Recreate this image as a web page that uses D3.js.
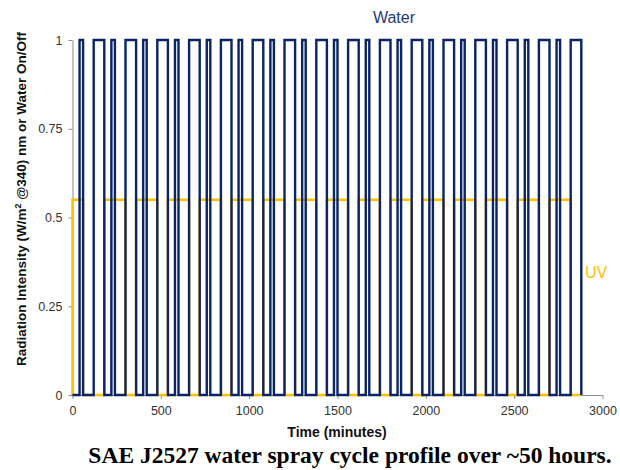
<!DOCTYPE html>
<html>
<head>
<meta charset="utf-8"/>
<title>SAE J2527 water spray cycle</title>
<script src="https://cdn.jsdelivr.net/npm/d3@7"></script>
<style>
  body { margin: 0; background: #fff; }
  svg text { font-family: "Liberation Sans", Arial, sans-serif; }
</style>
</head>
<body>
<div id="chart"></div>
<script>
// water spray on intervals (minutes)
var waterOn = [
  [40,60],[120,180],[220,240],[300,360],[400,420],[480,540],[580,600],[660,720],
  [760,780],[840,900],[940,960],[1020,1080],[1120,1140],[1200,1260],[1300,1320],[1380,1440],
  [1480,1500],[1560,1620],[1660,1680],[1740,1800],[1840,1860],[1920,1980],[2020,2040],[2100,2160],
  [2200,2220],[2280,2340],[2380,2400],[2460,2520],[2560,2580],[2640,2700],[2740,2760],[2820,2880]
];
// UV light on intervals (minutes)
var uvOn = [
  [0,60],[180,300],[360,480],[540,660],[720,840],[900,1020],[1080,1200],[1260,1380],
  [1440,1560],[1620,1740],[1800,1920],[1980,2100],[2160,2280],[2340,2460],[2520,2640],[2700,2820]
];
var uvLevel = 0.55;
var endTime = 2880;
var xTicks = [0,500,1000,1500,2000,2500,3000];
var yTicks = [0,0.25,0.5,0.75,1];

var svg = d3.select("#chart").append("svg")
  .attr("width", 620)
  .attr("height", 470);

var x = d3.scaleLinear().domain([0,3000]).range([72.5,602.5]);
var y = d3.scaleLinear().domain([0,1]).range([395,40]);

function steps(intervals, level) {
  var pts = [];
  if (intervals[0][0] > 0) pts.push([0,0]);
  intervals.forEach(function(iv) {
    pts.push([iv[0],0],[iv[0],level],[iv[1],level],[iv[1],0]);
  });
  pts.push([endTime,0]);
  return pts;
}

var line = d3.line()
  .x(function(d){ return x(d[0]); })
  .y(function(d){ return y(d[1]); });

// axes
var xAxis = svg.append("g")
  .attr("transform","translate(0,395)")
  .call(d3.axisBottom(x).tickValues(xTicks).tickSize(4).tickSizeOuter(0).tickPadding(7)
    .tickFormat(function(d){ return String(d); }));
var yAxis = svg.append("g")
  .attr("transform","translate(72.5,0)")
  .call(d3.axisLeft(y).tickValues(yTicks).tickSize(4).tickSizeOuter(0).tickPadding(6)
    .tickFormat(function(d){ return String(d); }));

[xAxis, yAxis].forEach(function(a){
  a.selectAll("path,line").attr("stroke","#8c8c8c");
  a.selectAll("text").attr("fill","#333").style("font-size","12.5px")
    .style("font-family","'Liberation Sans', Arial, sans-serif");
});

// UV series (under water)
svg.append("path")
  .datum(steps(uvOn, uvLevel))
  .attr("fill","none")
  .attr("stroke","#FFC000")
  .attr("stroke-width",2.5)
  .attr("d", line);

// Water series
svg.append("path")
  .datum(steps(waterOn, 1))
  .attr("fill","none")
  .attr("stroke","#0b2466")
  .attr("stroke-width",2.4)
  .attr("stroke-linejoin","miter")
  .attr("d", line);

// labels
svg.append("text")
  .attr("x",394).attr("y",23)
  .attr("text-anchor","middle")
  .attr("fill","#1f3a7a")
  .style("font-size","16px")
  .text("Water");

svg.append("text")
  .attr("x",596).attr("y",278)
  .attr("text-anchor","middle")
  .attr("fill","#FFC000")
  .style("font-size","16px")
  .text("UV");

svg.append("text")
  .attr("x",337).attr("y",437)
  .attr("text-anchor","middle")
  .attr("fill","#111")
  .style("font-size","14px")
  .style("font-weight","bold")
  .text("Time (minutes)");

var yt = svg.append("text")
  .attr("transform","translate(26,199) rotate(-90)")
  .attr("text-anchor","middle")
  .attr("fill","#111")
  .style("font-size","13.5px")
  .style("font-weight","bold");
yt.append("tspan").text("Radiation Intensity (W/m");
yt.append("tspan").attr("dy",-5).style("font-size","9px").text("2");
yt.append("tspan").attr("dy",5).text(" @340) nm or Water On/Off");

svg.append("text")
  .attr("x",350).attr("y",463)
  .attr("text-anchor","middle")
  .attr("fill","#000")
  .style("font-family","'Liberation Serif', 'Times New Roman', serif")
  .style("font-size","23.5px")
  .style("font-weight","bold")
  .text("SAE J2527 water spray cycle profile over ~50 hours.");
</script>
</body>
</html>
